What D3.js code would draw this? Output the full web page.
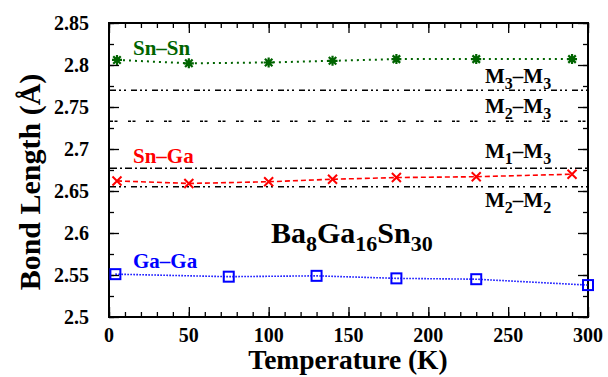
<!DOCTYPE html>
<html>
<head>
<meta charset="utf-8">
<script src="https://cdn.jsdelivr.net/npm/d3@7"></script>
<style>
  html, body { margin: 0; padding: 0; background: #fff; }
  text, tspan { font-family: "Liberation Serif"; font-weight: bold; }
</style>
</head>
<body>
<svg id="chart" width="608" height="377"></svg>
<script>
// Temperatures (K) and bond lengths (Å) for each bond type
const snSnT = [5, 50, 100, 140, 180, 230, 290];
const snSnL = [2.806, 2.802, 2.803, 2.805, 2.807, 2.807, 2.807];
const snGaT = [5, 50, 100, 140, 180, 230, 290];
const snGaL = [2.662, 2.659, 2.661, 2.664, 2.666, 2.667, 2.670];
const gaGaT = [4, 75, 130, 180, 230, 300];
const gaGaL = [2.551, 2.548, 2.549, 2.546, 2.545, 2.538];

// Reference bond lengths drawn as horizontal lines
const refNames = ["M3–M3", "M2–M3", "M1–M3", "M2–M2"];
const refValues = [2.770, 2.733, 2.677, 2.655];

const xTicks = [0, 50, 100, 150, 200, 250, 300];
const yTicks = [2.5, 2.55, 2.6, 2.65, 2.7, 2.75, 2.8, 2.85];

const svg = d3.select("#chart");
const m = { left: 109, right: 588, top: 23, bottom: 317 };
const x = d3.scaleLinear().domain([0, 300]).range([m.left, m.right]);
const y = d3.scaleLinear().domain([2.5, 2.85]).range([m.bottom, m.top]);

function txt(parent, size) {
  return parent.append("text")
    .style("font-family", '"Liberation Serif"').style("font-weight", "bold")
    .style("font-size", size + "px");
}

// Frame
svg.append("rect").attr("x", m.left).attr("y", m.top)
  .attr("width", m.right - m.left).attr("height", m.bottom - m.top)
  .attr("fill", "none").attr("stroke", "#000").attr("stroke-width", 2);

// Axes with inward ticks on all four sides
const xMinor = d3.range(0, 301, 10);
const yMinor = d3.range(2.5, 2.851, 0.025);
function tickAxis(axisFn, scale, vals, len, transform) {
  svg.append("g").attr("transform", transform)
    .call(axisFn(scale).tickValues(vals).tickSize(len).tickFormat(""))
    .call(g => g.select(".domain").remove())
    .call(g => g.selectAll("line").attr("stroke", "#000").attr("stroke-width", 1.3));
}
tickAxis(d3.axisTop, x, xMinor, 5, `translate(0,${m.bottom})`);
tickAxis(d3.axisTop, x, xTicks, 10, `translate(0,${m.bottom})`);
tickAxis(d3.axisBottom, x, xMinor, 5, `translate(0,${m.top})`);
tickAxis(d3.axisBottom, x, xTicks, 10, `translate(0,${m.top})`);
tickAxis(d3.axisRight, y, yMinor, 5, `translate(${m.left},0)`);
tickAxis(d3.axisRight, y, yTicks, 10, `translate(${m.left},0)`);
tickAxis(d3.axisLeft, y, yMinor, 5, `translate(${m.right},0)`);
tickAxis(d3.axisLeft, y, yTicks, 10, `translate(${m.right},0)`);

// Tick labels
const xl = svg.append("g");
xTicks.forEach(d => txt(xl, 20).attr("x", x(d)).attr("y", 342)
  .attr("text-anchor", "middle").text(d));
const yl = svg.append("g");
yTicks.forEach(d => txt(yl, 20).attr("x", 89).attr("y", y(d) + 6.5)
  .attr("text-anchor", "end").text(+d.toFixed(2)));

// Axis titles
txt(svg, 27.5).attr("x", 348).attr("y", 369).attr("text-anchor", "middle")
  .text("Temperature (K)");
txt(svg, 30).attr("transform", "translate(40,182) rotate(-90)")
  .attr("text-anchor", "middle").text("Bond Length (Å)");

// Reference lines
const refDash = ["6,3,2,3,2,5", "3,1.5,3,10.5", "7,3,2,3", "6,3,2,3,2,5"];
svg.append("g").selectAll("line").data(refValues).join("line")
  .attr("x1", m.left + 1).attr("x2", m.right - 1)
  .attr("y1", d => y(d)).attr("y2", d => y(d))
  .attr("stroke", "#000").attr("stroke-width", 1.6)
  .attr("stroke-dasharray", (d, i) => refDash[i]);

// M labels with subscripts
function mLabel(name, px, py) {
  const a = name[1], b = name[4];
  const t = txt(svg, 21).attr("x", px).attr("y", py);
  t.append("tspan").text("M");
  t.append("tspan").text(a).style("font-size", "16px").attr("dy", 6);
  t.append("tspan").text("–M").attr("dy", -6);
  t.append("tspan").text(b).style("font-size", "16px").attr("dy", 6);
}
const refLabelY = [83, 113, 158, 207];
refNames.forEach((n, i) => mLabel(n, 485, refLabelY[i]));

// Compound name
(function () {
  const t = txt(svg, 30).attr("x", 271).attr("y", 243);
  t.append("tspan").text("Ba");
  t.append("tspan").text("8").style("font-size", "22px").attr("dy", 8);
  t.append("tspan").text("Ga").attr("dy", -8);
  t.append("tspan").text("16").style("font-size", "22px").attr("dy", 8);
  t.append("tspan").text("Sn").attr("dy", -8);
  t.append("tspan").text("30").style("font-size", "22px").attr("dy", 8);
})();

// Series
const series = [
  { T: snSnT, L: snSnL, color: "#006400", dash: "2,4", width: 2, marker: "star", label: "Sn–Sn", ly: 55 },
  { T: snGaT, L: snGaL, color: "#ff0000", dash: "5,3", width: 1.6, marker: "cross", label: "Sn–Ga", ly: 163 },
  { T: gaGaT, L: gaGaL, color: "#0000ff", dash: "1.5,1.5", width: 1.6, marker: "square", label: "Ga–Ga", ly: 268 }
];
const line = d3.line().x(d => x(d[0])).y(d => y(d[1]));
series.forEach(s => {
  const pts = s.T.map((t, i) => [t, s.L[i]]);
  const g = svg.append("g");
  g.append("path").attr("d", line(pts)).attr("fill", "none")
    .attr("stroke", s.color).attr("stroke-width", s.width).attr("stroke-dasharray", s.dash);
  const mk = g.selectAll("g.mk").data(pts).join("g")
    .attr("transform", d => `translate(${x(d[0])},${y(d[1])})`);
  if (s.marker === "star") {
    const r = 5;
    mk.append("path")
      .attr("d", `M${-r},0H${r}M0,${-r}V${r}M${-r*0.75},${-r*0.75}L${r*0.75},${r*0.75}M${-r*0.75},${r*0.75}L${r*0.75},${-r*0.75}`)
      .attr("stroke", s.color).attr("stroke-width", 2.2).attr("fill", "none");
  } else if (s.marker === "cross") {
    const r = 4.5;
    mk.append("path").attr("d", `M${-r},${-r}L${r},${r}M${-r},${r}L${r},${-r}`)
      .attr("stroke", s.color).attr("stroke-width", 2).attr("fill", "none");
  } else {
    mk.append("rect").attr("x", -5).attr("y", -5).attr("width", 10).attr("height", 10)
      .attr("fill", "none").attr("stroke", s.color).attr("stroke-width", 2);
  }
  txt(svg, 21).attr("x", 133).attr("y", s.ly).attr("fill", s.color).text(s.label);
});
</script>
</body>
</html>
